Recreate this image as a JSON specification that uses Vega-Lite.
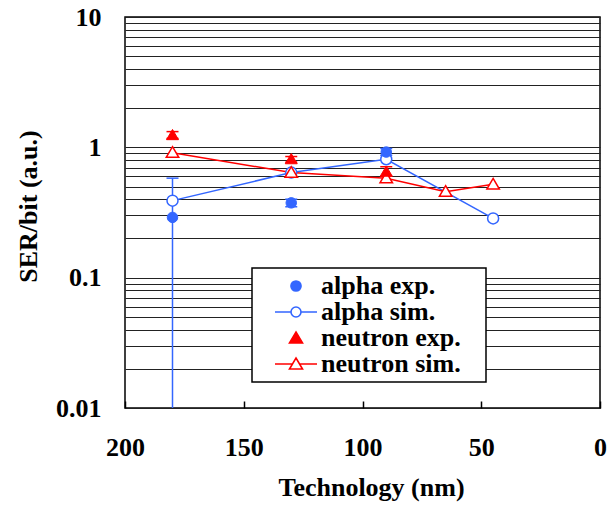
{
  "$schema": "https://vega.github.io/schema/vega-lite/v6.json",
  "width": 475,
  "height": 391,
  "autosize": {"type": "none"},
  "padding": {"left": 125, "top": 17, "right": 7, "bottom": 100},
  "background": "white",
  "config": {
    "font": "Liberation Serif",
    "view": {"stroke": "black", "strokeWidth": 1.5},
    "axis": {"labelFont": "Liberation Serif", "labelFontWeight": "bold", "labelColor": "black", "titleFont": "Liberation Serif", "titleFontWeight": "bold", "titleColor": "black"}
  },
  "data": {
    "values": [
      {"series": "alpha exp.", "tech": 180, "ser": 0.29, "lo": 0.01, "hi": 0.58, "capLo": null},
      {"series": "alpha exp.", "tech": 130, "ser": 0.375, "lo": 0.35, "hi": 0.4, "capLo": 0.35},
      {"series": "alpha exp.", "tech": 90, "ser": 0.92, "lo": 0.87, "hi": 0.98, "capLo": 0.87},
      {"series": "alpha sim.", "tech": 180, "ser": 0.39},
      {"series": "alpha sim.", "tech": 130, "ser": 0.64},
      {"series": "alpha sim.", "tech": 90, "ser": 0.81},
      {"series": "alpha sim.", "tech": 45, "ser": 0.285},
      {"series": "neutron exp.", "tech": 180, "ser": 1.24, "lo": 1.17, "hi": 1.32, "capLo": 1.17},
      {"series": "neutron exp.", "tech": 130, "ser": 0.81, "lo": 0.77, "hi": 0.85, "capLo": 0.77},
      {"series": "neutron exp.", "tech": 90, "ser": 0.65, "lo": 0.6, "hi": 0.71, "capLo": 0.6},
      {"series": "neutron sim.", "tech": 180, "ser": 0.91},
      {"series": "neutron sim.", "tech": 130, "ser": 0.64},
      {"series": "neutron sim.", "tech": 90, "ser": 0.58},
      {"series": "neutron sim.", "tech": 65, "ser": 0.457},
      {"series": "neutron sim.", "tech": 45, "ser": 0.52}
    ]
  },
  "encoding": {
    "x": {
      "field": "tech", "type": "quantitative",
      "scale": {"domain": [0, 200], "reverse": true, "nice": false},
      "axis": {
        "title": "Technology (nm)", "values": [0, 50, 100, 150, 200], "grid": false, "domain": false,
        "tickSize": -7, "tickColor": "black", "tickWidth": 1.5,
        "labelFontSize": 26, "labelPadding": 33, "labelFlush": false,
        "titleFontSize": 26, "titleX": 246, "titleY": 87, "titleBaseline": "alphabetic"
      }
    },
    "y": {
      "field": "ser", "type": "quantitative",
      "scale": {"type": "log", "domain": [0.01, 10], "nice": false},
      "axis": {
        "title": "SER/bit (a.u.)",
        "values": [0.01, 0.02, 0.03, 0.04, 0.05, 0.06, 0.07, 0.08, 0.09, 0.1, 0.2, 0.3, 0.4, 0.5, 0.6, 0.7, 0.8, 0.9, 1, 2, 3, 4, 5, 6, 7, 8, 9, 10],
        "labelExpr": "(datum.value == 0.01 || datum.value == 0.1 || datum.value == 1 || datum.value == 10) ? datum.label : ''",
        "format": "~g",
        "grid": true, "gridColor": "#222", "gridWidth": 1, "gridOpacity": 1,
        "ticks": false, "domain": false,
        "labelFontSize": 26, "labelPadding": 24, "labelFlush": false,
        "titleFontSize": 26, "titleAngle": -90, "titleX": -97, "titleY": 189, "titleAlign": "center", "titleBaseline": "middle"
      }
    },
    "stroke": {
      "field": "series", "type": "nominal",
      "scale": {"domain": ["alpha exp.", "alpha sim.", "neutron exp.", "neutron sim."], "range": ["#3366ff", "#3366ff", "#ff0000", "#ff0000"]},
      "legend": {
        "title": "\u00a0", "titleOrient": "right", "titlePadding": 20, "titleFontSize": 26, "titleFont": "Liberation Serif",
        "orient": "none", "legendX": 127, "legendY": 251,
        "fillColor": "white", "strokeColor": "black", "padding": 5,
        "labelFont": "Liberation Serif", "labelFontWeight": "bold", "labelFontSize": 26, "labelColor": "black", "labelLimit": 300,
        "symbolSize": 144, "symbolOffset": 26, "labelOffset": 12, "rowPadding": 0,
        "encode": {
          "legend": {"update": {"strokeWidth": {"value": 1.5}}},
          "symbols": {
            "update": {
              "shape": {"signal": "datum.value == 'alpha exp.' ? 'M0.85,0A0.85,0.85 0 1,1 -0.85,0A0.85,0.85 0 1,1 0.85,0Z' : datum.value == 'alpha sim.' ? 'M-3.5,0H-0.85M0.85,0H3.5M0.842,0A0.842,0.842 0 1,1 -0.842,0A0.842,0.842 0 1,1 0.842,0ZM0.826,0A0.826,0.826 0 1,0 -0.826,0A0.826,0.826 0 1,0 0.826,0Z' : datum.value == 'neutron exp.' ? 'M0,-1L1.1,0.85L-1.1,0.85Z' : 'M-3.5,0H-0.55M0.55,0H3.5M0,-1L1.1,0.85L-1.1,0.85ZM0,-0.975L-1.078,0.838L1.078,0.838Z'"},
              "fill": {"signal": "datum.value == 'alpha exp.' || datum.value == 'alpha sim.' ? '#3366ff' : '#ff0000'"},
              "strokeWidth": {"value": 1.5},
              "size": {"value": 144},
              "opacity": {"value": 1},
              "fillOpacity": {"value": 1},
              "strokeOpacity": {"value": 1}
            }
          }
        }
      }
    }
  },
  "layer": [
    {
      "transform": [{"filter": "datum.series == 'alpha sim.' || datum.series == 'neutron sim.'"}],
      "mark": {"type": "line", "strokeWidth": 1.5, "clip": true}
    },
    {
      "transform": [{"filter": "isValid(datum.lo)"}],
      "mark": {"type": "rule", "strokeWidth": 1.5, "clip": true},
      "encoding": {"y": {"field": "lo", "type": "quantitative"}, "y2": {"field": "hi"}}
    },
    {
      "transform": [{"filter": "isValid(datum.hi)"}],
      "mark": {"type": "tick", "orient": "horizontal", "size": 12, "thickness": 1.5, "opacity": 1, "strokeWidth": 0, "clip": true},
      "encoding": {
        "y": {"field": "hi", "type": "quantitative"},
        "fill": {"field": "series", "type": "nominal", "scale": {"domain": ["alpha exp.", "alpha sim.", "neutron exp.", "neutron sim."], "range": ["#3366ff", "#3366ff", "#ff0000", "#ff0000"]}, "legend": null}
      }
    },
    {
      "transform": [{"filter": "isValid(datum.capLo)"}],
      "mark": {"type": "tick", "orient": "horizontal", "size": 12, "thickness": 1.5, "opacity": 1, "strokeWidth": 0, "clip": true},
      "encoding": {
        "y": {"field": "capLo", "type": "quantitative"},
        "fill": {"field": "series", "type": "nominal", "legend": null}
      }
    },
    {
      "transform": [{"filter": "datum.series == 'alpha sim.'"}],
      "mark": {"type": "point", "shape": "circle", "filled": false, "fill": "white", "fillOpacity": 1, "opacity": 1, "size": 121, "strokeWidth": 1.5}
    },
    {
      "transform": [{"filter": "datum.series == 'neutron sim.'"}],
      "mark": {"type": "point", "shape": "M0,-0.95L1,0.75L-1,0.75Z", "filled": false, "fill": "white", "fillOpacity": 1, "opacity": 1, "size": 156, "strokeWidth": 1.5}
    },
    {
      "transform": [{"filter": "datum.series == 'alpha exp.'"}],
      "mark": {"type": "point", "shape": "circle", "filled": true, "opacity": 1, "size": 110, "strokeWidth": 1},
      "encoding": {"fill": {"field": "series", "type": "nominal", "legend": null}}
    },
    {
      "transform": [{"filter": "datum.series == 'neutron exp.'"}],
      "mark": {"type": "point", "shape": "M0,-0.95L1,0.75L-1,0.75Z", "filled": true, "opacity": 1, "size": 144, "strokeWidth": 1},
      "encoding": {"fill": {"field": "series", "type": "nominal", "legend": null}}
    }
  ]
}
